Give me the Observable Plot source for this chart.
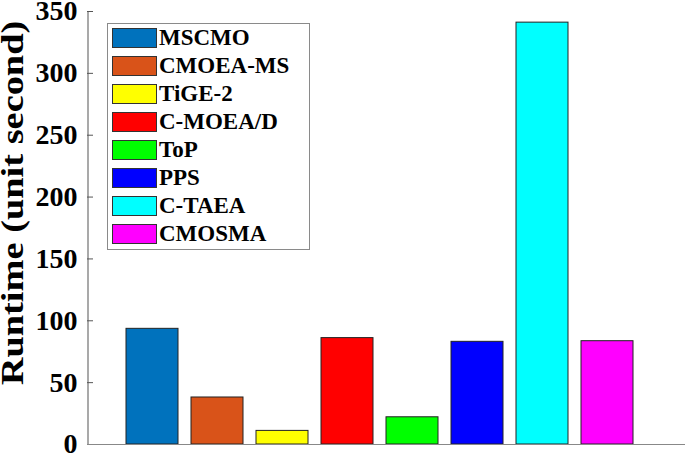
<!DOCTYPE html>
<html>
<head>
<meta charset="utf-8">
<script src="https://cdn.jsdelivr.net/npm/d3@7"></script>
<script src="https://cdn.jsdelivr.net/npm/@observablehq/plot@0.6"></script>
<style>
  html, body { margin: 0; padding: 0; background: #fff; }
  #wrap { position: relative; width: 685px; height: 455px; font-family: "Liberation Serif", "Times New Roman", serif; }
  #legend { position: absolute; left: 107px; top: 23px; width: 201px; height: 225px; border: 1px solid #8a8a8a; background: #fff; }
  .row { position: absolute; left: 4px; height: 20px; display: flex; align-items: center; }
  .sw { width: 43px; height: 18px; border: 1px solid #333; box-sizing: content-box; }
  .lb { margin-left: 2px; font-family: "Liberation Serif", "Times New Roman", serif; font-size: 23px; font-weight: bold; color: #000; line-height: 20px; white-space: nowrap; }
</style>
</head>
<body>
<div id="wrap"></div>
<script>
const methods = ["MSCMO", "CMOEA-MS", "TiGE-2", "C-MOEA/D", "ToP", "PPS", "C-TAEA", "CMOSMA"];
const runtimes = [93.5, 38, 11, 86, 22, 83, 341, 83.5];
const colors = ["#0072BD", "#D95319", "#FFFF00", "#FF0000", "#00FF00", "#0000FF", "#00FFFF", "#FF00FF"];
const yTicks = [0, 50, 100, 150, 200, 250, 300, 350];
const yLabel = "Runtime (unit second)";

const data = methods.map((m, i) => ({method: m, runtime: runtimes[i]}));

const FONT = "'Liberation Serif', 'Times New Roman', serif";
const W = 685, H = 455, ML = 87, MR = 0;
const chart = Plot.plot({
  width: W,
  height: H,
  marginLeft: ML,
  marginRight: MR,
  marginTop: 11,
  marginBottom: 11,
  style: {fontFamily: FONT, color: "#000", background: "#fff", overflow: "visible"},
  x: {domain: methods, paddingInner: 0.2, paddingOuter: 0.7, align: 0.43, axis: null},
  y: {domain: [0, 350], axis: null},
  color: {domain: methods, range: colors},
  marks: [
    Plot.barY(data, {x: "method", y: "runtime", fill: "method", stroke: "#222", strokeWidth: 1}),
    Plot.frame({fill: "#555", stroke: null, insetRight: W - ML - MR - 1}),
    Plot.ruleY(yTicks, {y: d => d, stroke: "#555", strokeWidth: 1, insetRight: W - ML - MR - 6}),
    Plot.ruleY([0], {stroke: "#888", strokeWidth: 1.2}),
    Plot.axisY(yTicks, {tickSize: 0, tickPadding: 10, fontSize: 28, fontWeight: "bold", fontFamily: FONT, label: null, fill: "#000"}),
    Plot.text([yLabel], {text: d => d, frameAnchor: "left", textAnchor: "middle", lineAnchor: "middle", rotate: -90, dx: -75, dy: -25, fontSize: 32, fontWeight: "bold", fontFamily: FONT, fill: "#000"})
  ]
});

// stretch the y label along its length, as in the reference
d3.select(chart).selectAll("text").filter(function() { return this.textContent === yLabel; })
  .each(function() {
    const t = this.getAttribute("transform") || "";
    this.setAttribute("transform", t + " scale(1.2,1)");
  });

const wrap = document.getElementById("wrap");
wrap.appendChild(chart);

const legend = document.createElement("div");
legend.id = "legend";
methods.forEach((m, i) => {
  const row = document.createElement("div");
  row.className = "row";
  row.style.top = (4 + i * 28) + "px";
  const sw = document.createElement("div");
  sw.className = "sw";
  sw.style.background = colors[i];
  const lb = document.createElement("span");
  lb.className = "lb";
  lb.textContent = m;
  row.appendChild(sw);
  row.appendChild(lb);
  legend.appendChild(row);
});
wrap.appendChild(legend);
</script>
</body>
</html>
